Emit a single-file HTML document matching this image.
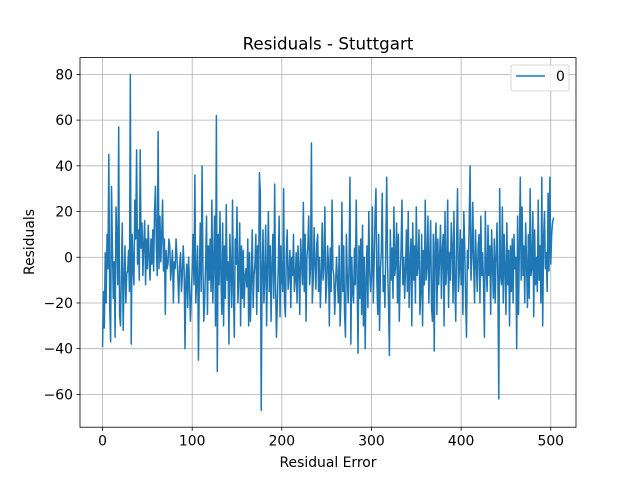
<!DOCTYPE html>
<html><head><meta charset="utf-8"><style>
html,body{margin:0;padding:0;background:#fff;}
svg{display:block;font-family:"DejaVu Sans","Liberation Sans",sans-serif;}
</style></head><body>
<svg id="chart" width="640" height="480" xmlns="http://www.w3.org/2000/svg">
<rect width="640" height="480" fill="#fff"/>
<text x="328" y="49.5" text-anchor="middle" font-size="16.7" fill="#000">Residuals - Stuttgart</text>
<text x="328" y="467" text-anchor="middle" font-size="13.9" fill="#000">Residual Error</text>
<text x="0" y="0" transform="translate(34,242) rotate(-90)" text-anchor="middle" font-size="13.9" fill="#000">Residuals</text>
<g id="grid"></g>
<g id="series"></g>
<rect x="80" y="57.6" width="496" height="369.6" fill="none" stroke="#000" stroke-width="0.8"/>
<g id="ticks"></g>
<g>
<rect x="511" y="65" width="58" height="26" rx="2" fill="#fff" fill-opacity="0.8" stroke="#ccc" stroke-width="0.8"/>
<line x1="516" y1="76" x2="545" y2="76" stroke="#1f77b4" stroke-width="1.5"/>
<text x="556" y="81" font-size="13.9" fill="#000">0</text>
</g>
</svg>
<script>
const xTicks=[0,100,200,300,400,500];
const yTicks=[-60,-40,-20,0,20,40,60,80];
const yTickLabels=["−60","−40","−20","0","20","40","60","80"];
const residuals=[
-39,-15,-31,2,-20,10,-5,45,-22,-37,31,5,-18,-2,-35,22,8,-12,57,-25,
-30,-8,15,-32,-10,5,-20,-7,-6,3,-15,80,-38,10,-4,-12,25,8,47,-3,
12,-10,47,4,15,-8,6,16,-12,8,-5,14,0,-10,8,-3,12,-6,20,31,
5,-8,55,-5,18,-2,10,25,-6,8,-25,3,-5,-3,8,5,-10,-3,3,-20,
-2,-5,8,0,-8,-20,-3,2,-15,-8,5,-5,-40,-10,-3,-22,0,-12,-28,-18,
-5,10,-12,36,-20,-10,5,-45,-8,15,-15,40,-5,-28,-18,-2,18,-25,5,-10,
8,-15,25,-20,-2,18,-30,62,-50,10,-12,20,-8,-25,15,-30,5,-18,23,-10,
-2,-38,10,-5,-22,25,-15,-35,8,-3,22,-20,-8,15,-30,5,-18,3,-22,-8,
-5,-13,8,-30,2,-28,-10,12,-22,-8,-3,10,-25,5,-15,37,28,-67,-5,12,
-20,-8,14,-30,-5,20,-15,5,-28,-3,10,-18,32,-12,-35,-20,-4,18,-26,5,
-10,-15,30,-20,-26,2,12,-14,-8,3,-22,0,-8,10,-15,-10,2,-20,5,-5,
-25,8,-2,-12,24,-15,10,-28,0,5,18,-12,-5,50,-20,-10,13,-3,-14,6,
10,-15,0,-22,-8,15,-10,-3,22,-20,-12,5,-2,-30,4,-15,25,-5,-8,-25,
-12,0,-10,-20,5,-30,-18,24,-15,5,-25,-35,10,-8,-20,-3,35,-38,0,-15,
-20,4,-12,25,-8,-42,5,-18,8,-25,14,-30,0,-40,-10,5,-22,20,-6,-15,
-8,22,-20,-2,18,30,-10,-25,10,-32,-5,2,28,-15,-8,-22,5,35,-4,-20,
-43,12,-10,4,-18,22,-8,-3,15,-20,10,-28,-8,3,25,-12,0,-18,-5,12,
-15,20,-22,-2,8,-30,15,-10,5,-20,22,-8,-3,12,-25,-15,10,-30,3,-12,
25,-10,-4,18,-20,0,16,-22,-28,10,-41,5,15,-25,8,-12,0,14,-18,3,
10,-30,20,-12,-5,25,-22,2,-10,15,5,-20,20,-12,-28,8,30,-15,-6,12,
-12,8,-25,20,5,-18,-35,3,-5,15,40,-10,0,24,-3,-20,12,-2,-15,5,
10,-20,18,-8,2,-12,-35,20,-5,-15,14,-8,5,-25,12,-3,-18,8,-20,0,
15,-10,-62,30,-8,-12,22,-20,10,-5,-25,15,-12,3,-30,5,-15,8,-20,10,
-5,0,-40,18,-25,5,35,-10,22,-8,
5,-20,15,-3,-22,10,-18,30,-8,-5,20,-26,12,-12,0,-15,25,-10,5,-20,
35,-30,8,20,-5,2,-15,28,-6,35,-3,10,15,17
];
const L=80,R=576,T=57.6,B=427.2;
const n=residuals.length;
const xmin=-(n-1)*0.05,xmax=(n-1)*1.05;
let ymin=Math.min(...residuals),ymax=Math.max(...residuals);
const pad=(ymax-ymin)*0.05;ymin-=pad;ymax+=pad;
const xs=v=>L+(v-xmin)/(xmax-xmin)*(R-L);
const ys=v=>B-(v-ymin)/(ymax-ymin)*(B-T);
const NS="http://www.w3.org/2000/svg";
const grid=document.getElementById('grid'),ticks=document.getElementById('ticks'),series=document.getElementById('series');
function mk(tag,attrs,parent){const e=document.createElementNS(NS,tag);for(const k in attrs)e.setAttribute(k,attrs[k]);parent.appendChild(e);return e;}
xTicks.forEach(t=>{
  const x=xs(t);
  const g=mk('line',{x1:x,y1:T,x2:x,y2:B,stroke:'#b0b0b0','stroke-width':0.8},grid);
  
  
  const tk=mk('line',{x1:x,y1:B,x2:x,y2:B+3.5,stroke:'#000','stroke-width':0.8},ticks);
  
  
  const tx=mk('text',{x:x,y:B+18.5,'text-anchor':'middle','font-size':13.9,fill:'#000'},ticks);
  tx.textContent=String(t);
  
  
});
yTicks.forEach((t,i)=>{
  const y=ys(t);
  const g=mk('line',{x1:L,y1:y,x2:R,y2:y,stroke:'#b0b0b0','stroke-width':0.8},grid);
  
  
  const tk=mk('line',{x1:L-3.5,y1:y,x2:L,y2:y,stroke:'#000','stroke-width':0.8},ticks);
  
  
  const tx=mk('text',{x:L-7,y:y+5,'text-anchor':'end','font-size':13.9,fill:'#000'},ticks);
  tx.textContent=yTickLabels[i];
  
  
});
const pts=residuals.map((v,i)=>xs(i).toFixed(2)+','+ys(v).toFixed(2)).join(' ');
const pl=mk('polyline',{points:pts,fill:'none',stroke:'#1f77b4','stroke-width':1.5,'stroke-linejoin':'round','stroke-linecap':'square'},series);


</script>
</body></html>
